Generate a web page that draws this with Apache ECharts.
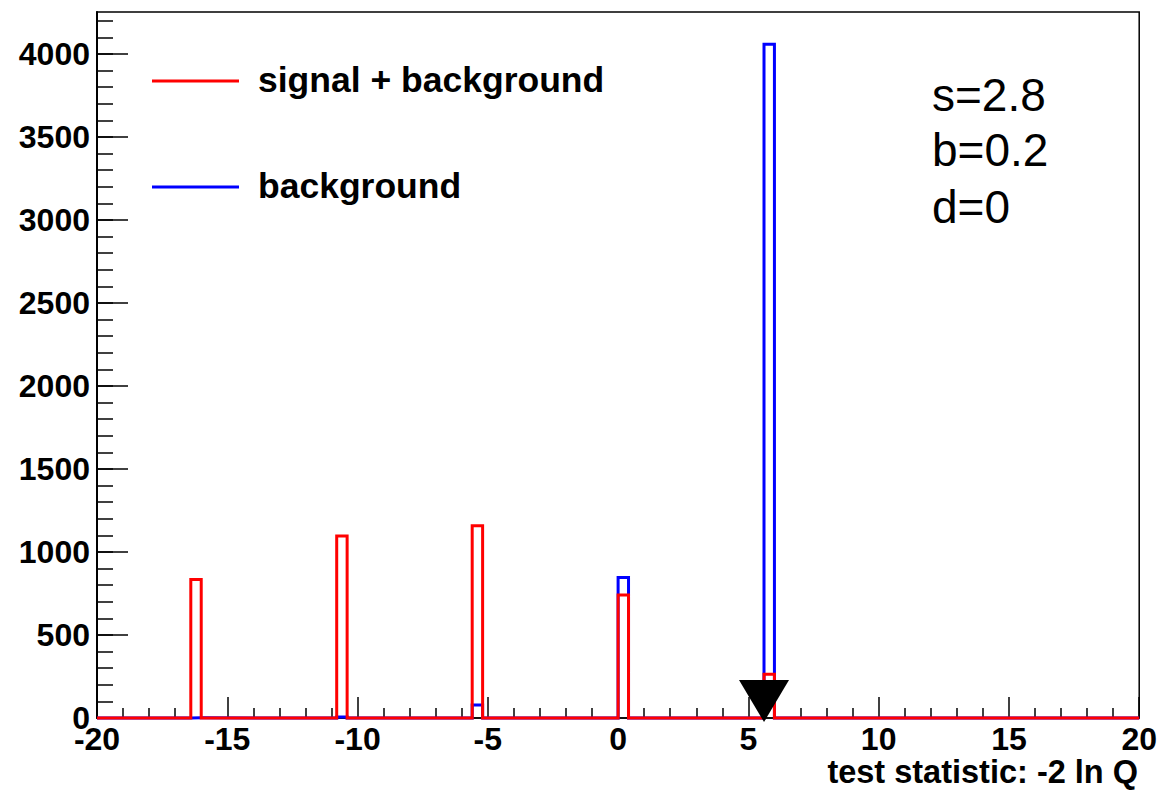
<!DOCTYPE html>
<html>
<head>
<meta charset="utf-8">
<title>test statistic: -2 ln Q</title>
<script src="https://cdn.jsdelivr.net/npm/echarts@6/dist/echarts.min.js"></script>
<style>
  html, body { margin: 0; padding: 0; background: #fff; }
  #chart { width: 1160px; height: 791px; }
</style>
</head>
<body>
<div id="chart"></div>
<script>
// Histogram definition: 100 bins of width 0.4 on [-20, 20]
const xRange = [-20, 20];
const binWidth = 0.4;
// lower edges of the bins that have entries
const filledBinLow = [-16.4, -10.8, -5.6, 0.0, 5.6];
// entries per filled bin
const sbCounts = [835, 1096, 1158, 741, 263];   // signal + background
const bCounts  = [1, 6, 78, 847, 4058];         // background only
// observed value of the test statistic (d = 0)
const observed = 5.6;
const yMax = 4253;

const xTicks = [-20, -15, -10, -5, 0, 5, 10, 15, 20];
const yTicks = [0, 500, 1000, 1500, 2000, 2500, 3000, 3500, 4000];
const infoLines = ['s=2.8', 'b=0.2', 'd=0'];
const legendNames = ['signal + background', 'background'];
const xTitle = 'test statistic: -2 ln Q';

// Build a step outline through all bins (empty bins sit at zero)
function stepOutline(counts) {
  const pts = [[xRange[0], 0]];
  filledBinLow.forEach((lo, i) => {
    const hi = +(lo + binWidth).toFixed(4);
    pts.push([lo, 0], [lo, counts[i]], [hi, counts[i]], [hi, 0]);
  });
  pts.push([xRange[1], 0]);
  return pts;
}

const yMinorTicks = [];
for (let v = 100; v < yMax; v += 100) yMinorTicks.push(v);

const FONT = '"Liberation Sans", Arial, Helvetica, sans-serif';
const RED = '#ff0000';
const BLUE = '#0000ff';

const chart = echarts.init(document.getElementById('chart'), null, { renderer: 'svg' });

chart.setOption({
  animation: false,
  backgroundColor: '#ffffff',
  grid: {
    left: 97, right: 20, top: 12, bottom: 73,
    show: true, borderColor: '#000', borderWidth: 1.5,
    containLabel: false
  },
  xAxis: {
    type: 'value',
    min: xRange[0], max: xRange[1], interval: 5,
    axisLine: { show: true, onZero: false, lineStyle: { color: '#000', width: 1.5 } },
    axisTick: { show: true, inside: true, length: 21, lineStyle: { color: '#000', width: 1.5 },
      customValues: xTicks },
    minorTick: { show: true, splitNumber: 5, length: 10, lineStyle: { color: '#000', width: 1.5 } },
    splitLine: { show: false },
    axisLabel: {
      customValues: xTicks,
      margin: 5,
      color: '#000', fontFamily: FONT, fontWeight: 'bold', fontSize: 32,
      formatter: v => String(v)
    }
  },
  yAxis: [
    {
      type: 'value',
      min: 0, max: yMax,
      position: 'left',
      axisLine: { show: true, onZero: false, lineStyle: { color: '#000', width: 2 } },
      axisTick: { show: true, inside: true, length: 31, lineStyle: { color: '#000', width: 1.5 },
        customValues: yTicks },
      splitLine: { show: false },
      axisLabel: {
        customValues: yTicks,
        margin: 7,
        color: '#000', fontFamily: FONT, fontWeight: 'bold', fontSize: 32,
        formatter: v => String(v)
      }
    },
    {
      type: 'value',
      min: 0, max: yMax,
      position: 'left',
      axisLine: { show: false, onZero: false },
      axisTick: { show: true, inside: true, length: 16, lineStyle: { color: '#000', width: 1.5 },
        customValues: yMinorTicks },
      splitLine: { show: false },
      axisLabel: { show: false }
    }
  ],
  series: [
    {
      name: legendNames[1],
      type: 'line',
      data: stepOutline(bCounts),
      showSymbol: false,
      clip: false,
      lineStyle: { color: BLUE, width: 3, join: 'miter', cap: 'butt' },
      itemStyle: { color: BLUE },
      z: 2
    },
    {
      name: legendNames[0],
      type: 'line',
      data: stepOutline(sbCounts),
      showSymbol: false,
      clip: false,
      lineStyle: { color: RED, width: 3, join: 'miter', cap: 'butt' },
      itemStyle: { color: RED },
      z: 3
    },
    {
      name: 'observed',
      type: 'scatter',
      data: [[observed, 0]],
      symbol: 'triangle',
      symbolRotate: 180,
      symbolSize: [50, 42],
      symbolOffset: [0, -17],
      clip: false,
      itemStyle: { color: '#000', opacity: 1 },
      silent: true,
      z: 5
    }
  ],
  graphic: [
    { type: 'line', shape: { x1: 152, y1: 81, x2: 239, y2: 81 }, style: { stroke: RED, lineWidth: 3 } },
    { type: 'text', x: 258, y: 80, style: { text: legendNames[0], font: 'bold 35.5px ' + FONT, fill: '#000', verticalAlign: 'middle' } },
    { type: 'line', shape: { x1: 152, y1: 187, x2: 239, y2: 187 }, style: { stroke: BLUE, lineWidth: 3 } },
    { type: 'text', x: 258, y: 186, style: { text: legendNames[1], font: 'bold 35.5px ' + FONT, fill: '#000', verticalAlign: 'middle' } },
    { type: 'text', x: 932, y: 95, style: { text: infoLines[0], font: '46px ' + FONT, fill: '#000', verticalAlign: 'middle' } },
    { type: 'text', x: 932, y: 150, style: { text: infoLines[1], font: '46px ' + FONT, fill: '#000', verticalAlign: 'middle' } },
    { type: 'text', x: 932, y: 207, style: { text: infoLines[2], font: '46px ' + FONT, fill: '#000', verticalAlign: 'middle' } },
    { type: 'text', x: 1138, y: 772, style: { text: xTitle, font: 'bold 32.5px ' + FONT, lineHeight: 32, fill: '#000', align: 'right', verticalAlign: 'middle' } }
  ]
});
</script>
</body>
</html>
